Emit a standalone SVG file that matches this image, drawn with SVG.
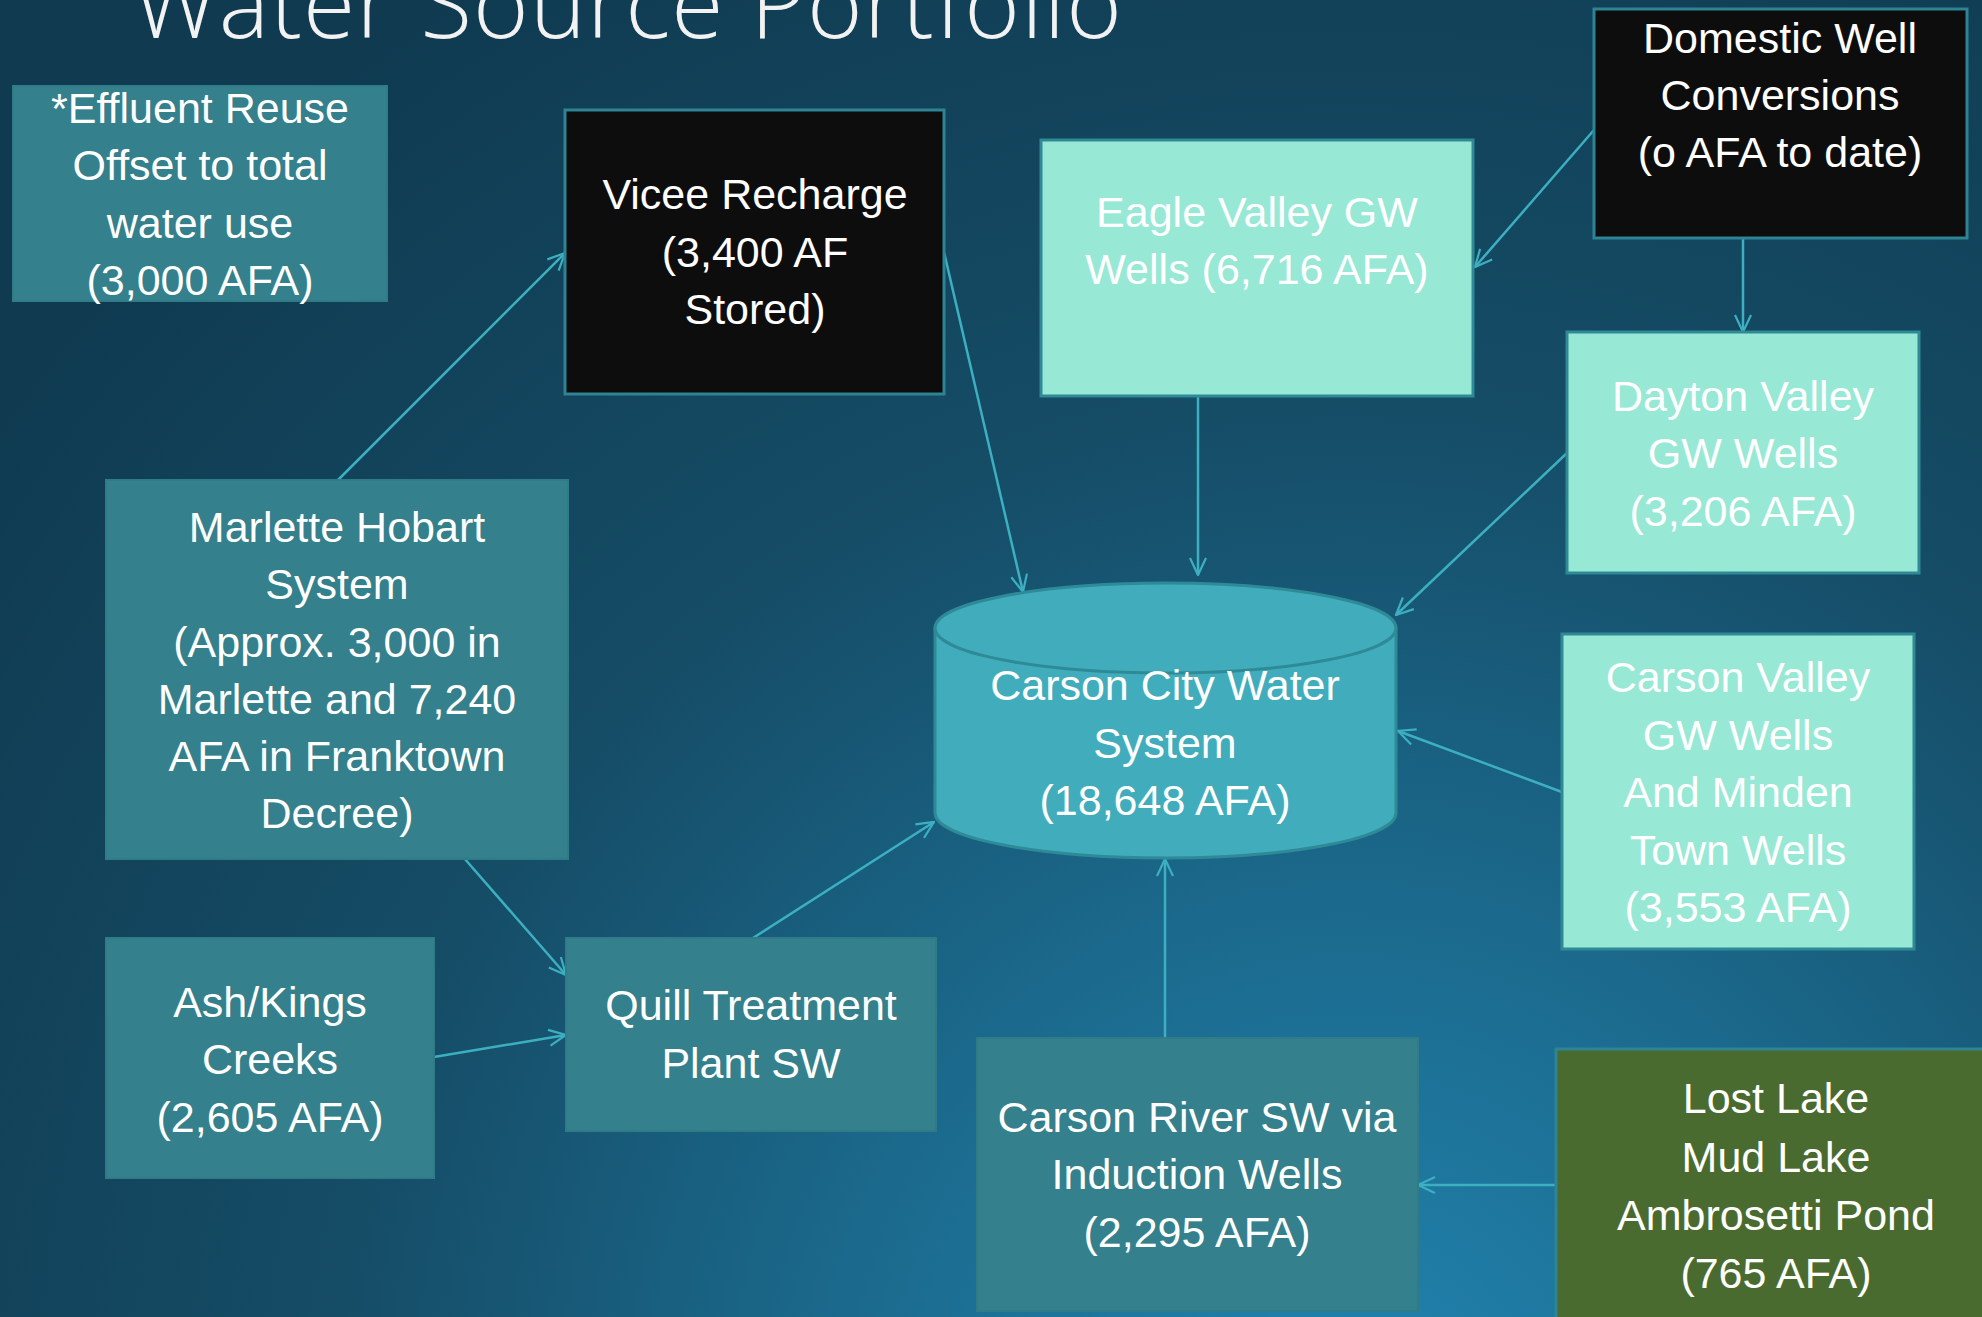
<svg xmlns="http://www.w3.org/2000/svg" width="1982" height="1317" viewBox="0 0 1982 1317">
<defs>
<radialGradient id="bg" cx="1350" cy="1420" r="1700" gradientUnits="userSpaceOnUse">
<stop offset="0" stop-color="#2184b0"/>
<stop offset="0.3" stop-color="#1b6a8d"/>
<stop offset="0.6" stop-color="#154c66"/>
<stop offset="1" stop-color="#0f3a50"/>
</radialGradient>
<marker id="arr" viewBox="0 0 20 20" refX="19" refY="10" markerWidth="20" markerHeight="20" markerUnits="userSpaceOnUse" orient="auto">
<path d="M2,2 L19,10 L2,18" fill="none" stroke="#3cafc0" stroke-width="2.2"/>
</marker>
</defs>
<style>
.t{font-family:"Liberation Sans",Arial,sans-serif;font-size:43px;fill:#ffffff;text-anchor:middle}
.teal{fill:#34808c;stroke:#2f7b88;stroke-width:2}
.mint{fill:#98e8d6;stroke:#2f8a95;stroke-width:3}
.blk{fill:#0d0d0d;stroke:#2e8394;stroke-width:3}
.grn{fill:#4a6b2f;stroke:#2e8394;stroke-width:3}
.cyl{fill:#41adbc;stroke:#2f8a97;stroke-width:3}
.c{fill:none;stroke:#3cafc0;stroke-width:2.5;marker-end:url(#arr)}
</style>
<rect width="1982" height="1317" fill="url(#bg)"/>
<text x="133" y="38" font-family="'Open Sans','Noto Sans',sans-serif" font-weight="300" font-size="95" fill="#f2f2f2" textLength="989" lengthAdjust="spacing">Water Source Portfolio</text>

<g id="connectors">
<line class="c" x1="338" y1="480" x2="565" y2="253"/>
<line class="c" x1="944" y1="252" x2="1023" y2="592"/>
<line class="c" x1="1198" y1="396" x2="1198" y2="575"/>
<line class="c" x1="1594" y1="130" x2="1475" y2="267"/>
<line class="c" x1="1743" y1="238" x2="1743" y2="332"/>
<line class="c" x1="1567" y1="453" x2="1396" y2="615"/>
<line class="c" x1="1562" y1="792" x2="1398" y2="731"/>
<line class="c" x1="1165" y1="1037" x2="1165" y2="859"/>
<line class="c" x1="1556" y1="1185" x2="1418" y2="1185"/>
<line class="c" x1="464" y1="858" x2="566" y2="975"/>
<line class="c" x1="434" y1="1057" x2="566" y2="1035"/>
<line class="c" x1="753" y1="938" x2="934" y2="822"/>
</g>

<g id="effluent">
<rect class="teal" x="13" y="86" width="374" height="215"/>
<text class="t" x="200" y="123">*Effluent Reuse</text>
<text class="t" x="200" y="180">Offset to total</text>
<text class="t" x="200" y="238">water use</text>
<text class="t" x="200" y="295">(3,000 AFA)</text>
</g>

<g id="vicee">
<rect class="blk" x="565" y="110" width="379" height="284"/>
<text class="t" x="755" y="209">Vicee Recharge</text>
<text class="t" x="755" y="267">(3,400 AF</text>
<text class="t" x="755" y="324">Stored)</text>
</g>

<g id="eagle">
<rect class="mint" x="1041" y="140" width="432" height="256"/>
<text class="t" x="1257" y="227">Eagle Valley GW</text>
<text class="t" x="1257" y="284">Wells (6,716 AFA)</text>
</g>

<g id="domestic">
<rect class="blk" x="1594" y="9" width="373" height="229"/>
<text class="t" x="1780" y="53">Domestic Well</text>
<text class="t" x="1780" y="110">Conversions</text>
<text class="t" x="1780" y="167">(o AFA to date)</text>
</g>

<g id="dayton">
<rect class="mint" x="1567" y="332" width="352" height="241"/>
<text class="t" x="1743" y="411">Dayton Valley</text>
<text class="t" x="1743" y="468">GW Wells</text>
<text class="t" x="1743" y="526">(3,206 AFA)</text>
</g>

<g id="marlette">
<rect class="teal" x="106" y="480" width="462" height="379"/>
<text class="t" x="337" y="542">Marlette Hobart</text>
<text class="t" x="337" y="599">System</text>
<text class="t" x="337" y="657">(Approx. 3,000 in</text>
<text class="t" x="337" y="714">Marlette and 7,240</text>
<text class="t" x="337" y="771">AFA in Franktown</text>
<text class="t" x="337" y="828">Decree)</text>
</g>

<g id="carson-city">
<path class="cyl" d="M935,628 L935,813 A230.5,45 0 0 0 1396,813 L1396,628"/>
<ellipse class="cyl" cx="1165.5" cy="628" rx="230.5" ry="45"/>
<text class="t" x="1165" y="700">Carson City Water</text>
<text class="t" x="1165" y="758">System</text>
<text class="t" x="1165" y="815">(18,648 AFA)</text>
</g>

<g id="carson-valley">
<rect class="mint" x="1562" y="634" width="352" height="315"/>
<text class="t" x="1738" y="692">Carson Valley</text>
<text class="t" x="1738" y="750">GW Wells</text>
<text class="t" x="1738" y="807">And Minden</text>
<text class="t" x="1738" y="865">Town Wells</text>
<text class="t" x="1738" y="922">(3,553 AFA)</text>
</g>

<g id="ash">
<rect class="teal" x="106" y="938" width="328" height="240"/>
<text class="t" x="270" y="1017">Ash/Kings</text>
<text class="t" x="270" y="1074">Creeks</text>
<text class="t" x="270" y="1132">(2,605 AFA)</text>
</g>

<g id="quill">
<rect class="teal" x="566" y="938" width="370" height="193"/>
<text class="t" x="751" y="1020">Quill Treatment</text>
<text class="t" x="751" y="1078">Plant SW</text>
</g>

<g id="carson-river">
<rect class="teal" x="977" y="1038" width="441" height="273"/>
<text class="t" x="1197" y="1132">Carson River SW via</text>
<text class="t" x="1197" y="1189">Induction Wells</text>
<text class="t" x="1197" y="1247">(2,295 AFA)</text>
</g>

<g id="lost-lake">
<rect class="grn" x="1556" y="1049" width="440" height="290"/>
<text class="t" x="1776" y="1113">Lost Lake</text>
<text class="t" x="1776" y="1172">Mud Lake</text>
<text class="t" x="1776" y="1230">Ambrosetti Pond</text>
<text class="t" x="1776" y="1288">(765 AFA)</text>
</g>
</svg>
